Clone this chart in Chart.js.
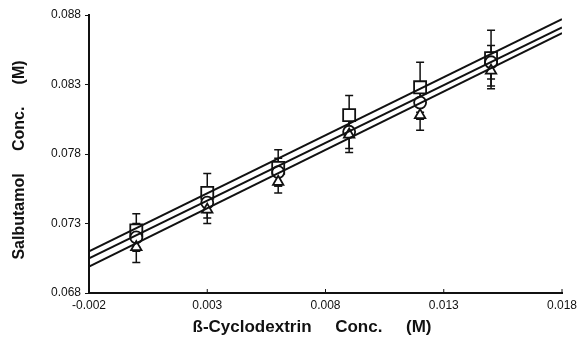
<!DOCTYPE html>
<html>
<head>
<meta charset="utf-8">
<script src="https://cdn.jsdelivr.net/npm/chart.js@4"></script>
<style>
  html, body { margin: 0; padding: 0; background: #fff; }
  #wrap { width: 584px; height: 342px; }
</style>
</head>
<body>
<div id="wrap"><canvas id="cd"></canvas></div>
<script>
// beta-cyclodextrin concentration (M)
var conc = [0, 0.003, 0.006, 0.009, 0.012, 0.015];
// salbutamol concentration (M), three runs
var squares = [0.0725, 0.0752, 0.0770, 0.0808, 0.0828, 0.0849];
var circles = [0.0720, 0.0745, 0.0767, 0.0796, 0.0817, 0.0846];
var triangles = [0.0713, 0.0740, 0.0760, 0.0794, 0.0808, 0.0840];
// error bar half widths
var sqErr = [0.0012, 0.0014, 0.0013, 0.0014, 0.0018, 0.0020];
var ciErr = [0.0010, 0.0011, 0.0010, 0.0012, 0.0012, 0.0012];
var trErr = [0.0011, 0.0010, 0.0008, 0.0013, 0.0011, 0.0013];
// fitted lines, end points
var lineX = [-0.002, 0.018];
var lineSq = [0.0710, 0.0877];
var lineCi = [0.0705, 0.0871];
var lineTr = [0.0699, 0.0867];
// tick labels
var xTicks = [-0.002, 0.003, 0.008, 0.013, 0.018];
var yTicks = [0.068, 0.073, 0.078, 0.083, 0.088];
var xTitle = 'ß-Cyclodextrin     Conc.     (M)';
var yTitle = 'Salbutamol     Conc.     (M)';

function pts(xs, ys) {
    return xs.map(function (x, i) { return { x: x, y: ys[i] }; });
}

var errBars = {
    id: 'errBars',
    beforeDatasetsDraw: function (chart) {
        var c = chart.ctx, xs = chart.scales.x, ys = chart.scales.y;
        var sets = [[squares, sqErr], [circles, ciErr], [triangles, trErr]];
        c.save();
        c.strokeStyle = '#111';
        c.lineWidth = 1.5;
        sets.forEach(function (s) {
            conc.forEach(function (x, i) {
                var px = xs.getPixelForValue(x);
                var top = ys.getPixelForValue(s[0][i] + s[1][i]);
                var bot = ys.getPixelForValue(s[0][i] - s[1][i]);
                c.beginPath();
                c.moveTo(px, top); c.lineTo(px, bot);
                c.moveTo(px - 4, top); c.lineTo(px + 4, top);
                c.moveTo(px - 4, bot); c.lineTo(px + 4, bot);
                c.stroke();
            });
        });
        // x tick marks pointing up
        c.lineWidth = 1;
        xTicks.forEach(function (t) {
            var px = xs.getPixelForValue(t);
            c.beginPath();
            c.moveTo(px, xs.top); c.lineTo(px, xs.top - 4);
            c.stroke();
        });
        c.restore();
    },
    afterDraw: function (chart) {
        // axis titles, placed as in the original figure
        var c = chart.ctx;
        c.save();
        c.fillStyle = '#111';
        c.textAlign = 'center';
        c.textBaseline = 'middle';
        c.font = 'bold 17px "Liberation Sans", Arial, sans-serif';
        c.fillText(xTitle, 312, 327);
        c.font = 'bold 16px "Liberation Sans", Arial, sans-serif';
        c.translate(20, 160);
        c.rotate(-Math.PI / 2);
        c.fillText(yTitle, 0, 0);
        c.restore();
    }
};

var lineStyle = { borderColor: '#111', borderWidth: 2, pointRadius: 0, showLine: true, fill: false };
var markStyle = { borderColor: '#111', backgroundColor: '#fff', borderWidth: 1.8, showLine: false };
var tickFont = { family: 'Liberation Sans', size: 12 };

var ctx = document.getElementById('cd');
var chart = new Chart(ctx, {
    type: 'scatter',
    data: {
        datasets: [
            Object.assign({ label: 'fit 1', data: pts(lineX, lineSq) }, lineStyle),
            Object.assign({ label: 'fit 2', data: pts(lineX, lineCi) }, lineStyle),
            Object.assign({ label: 'fit 3', data: pts(lineX, lineTr) }, lineStyle),
            Object.assign({ label: 'triangles', data: pts(conc, triangles), pointStyle: 'triangle', pointRadius: 6 }, markStyle),
            Object.assign({ label: 'circles', data: pts(conc, circles), pointStyle: 'circle', pointRadius: 6 }, markStyle),
            Object.assign({ label: 'squares', data: pts(conc, squares), pointStyle: 'rect', pointRadius: 8.5 }, markStyle)
        ]
    },
    options: {
        responsive: true,
        maintainAspectRatio: false,
        animation: false,
        layout: { padding: { top: 15, right: 22, left: 0, bottom: 0 } },
        plugins: {
            legend: { display: false },
            tooltip: { enabled: false }
        },
        scales: {
            x: {
                type: 'linear',
                min: -0.002,
                max: 0.018,
                afterBuildTicks: function (s) { s.ticks = xTicks.map(function (v) { return { value: v }; }); },
                afterFit: function (s) { s.height = 49; },
                grid: { display: false },
                border: { display: true, color: '#111', width: 2 },
                ticks: {
                    color: '#111',
                    font: tickFont,
                    padding: -3,
                    maxRotation: 0,
                    callback: function (v) { return v.toFixed(3); }
                }
            },
            y: {
                type: 'linear',
                min: 0.068,
                max: 0.088,
                afterBuildTicks: function (s) { s.ticks = yTicks.map(function (v) { return { value: v }; }); },
                afterFit: function (s) { s.width = 89; },
                grid: { display: true, drawOnChartArea: false, drawTicks: true, tickLength: 4, color: '#111' },
                border: { display: true, color: '#111', width: 2 },
                ticks: {
                    color: '#111',
                    font: tickFont,
                    padding: 4,
                    callback: function (v) { return v.toFixed(3); }
                }
            }
        }
    },
    plugins: [errBars]
});
</script>
</body>
</html>
